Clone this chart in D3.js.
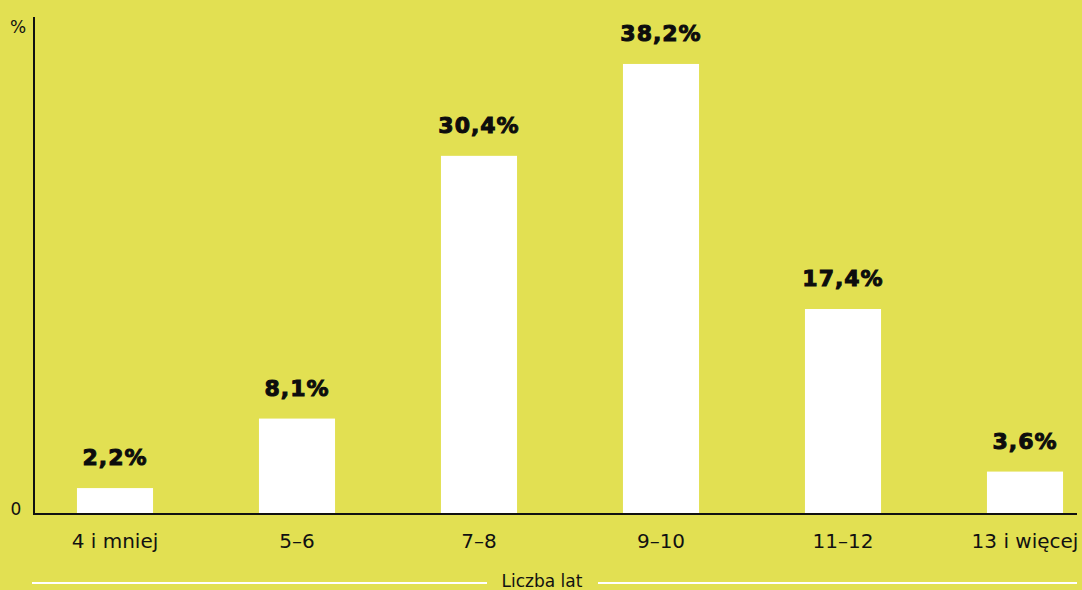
<!DOCTYPE html>
<html>
<head>
<meta charset="utf-8">
<script src="https://cdn.jsdelivr.net/npm/d3@7"></script>
<style>
  body { margin: 0; background: #e2e052; }
  svg { display: block; }
</style>
</head>
<body>
<script>
const width = 1082;
const height = 590;

const categories = ["4 i mniej", "5–6", "7–8", "9–10", "11–12", "13 i więcej"];
const values = [2.2, 8.1, 30.4, 38.2, 17.4, 3.6];
const valueLabels = ["2,2%", "8,1%", "30,4%", "38,2%", "17,4%", "3,6%"];

let svg = d3.select("body")
  .append("svg")
    .attr("width", width)
    .attr("height", height);

svg.append("rect")
  .attr("width", width)
  .attr("height", height)
  .attr("fill", "#e2e052");

let x = d3.scaleBand()
  .domain(categories)
  .range([24, 1116])
  .paddingInner(0.582)
  .paddingOuter(0.291);

let y = d3.scaleLinear()
  .domain([0, 42.1])
  .range([514, 18]);

// bars
svg.selectAll("rect.bar")
  .data(values)
  .enter()
  .append("rect")
    .attr("class", "bar")
    .attr("x", (d, i) => x(categories[i]))
    .attr("y", d => y(d))
    .attr("width", x.bandwidth())
    .attr("height", d => y(0) - y(d))
    .attr("fill", "white");

// value labels (stroke to get a heavier weight)
svg.selectAll("text.val")
  .data(values)
  .enter()
  .append("text")
    .attr("class", "val")
    .attr("x", (d, i) => x(categories[i]) + x.bandwidth() / 2)
    .attr("y", d => y(d) - 23)
    .attr("text-anchor", "middle")
    .style("font-family", "'DejaVu Sans', sans-serif")
    .style("font-weight", "bold")
    .style("font-size", "22px")
    .style("letter-spacing", "1px")
    .attr("fill", "#0d0d0d")
    .attr("stroke", "#0d0d0d")
    .attr("stroke-width", 1)
    .text((d, i) => valueLabels[i]);

// axes lines
svg.append("line")
  .attr("x1", 34).attr("x2", 34)
  .attr("y1", 17).attr("y2", y(0) + 1)
  .attr("stroke", "#111").attr("stroke-width", 2);

svg.append("line")
  .attr("x1", 33).attr("x2", 1077)
  .attr("y1", y(0)).attr("y2", y(0))
  .attr("stroke", "#111").attr("stroke-width", 2);

// x tick labels
svg.selectAll("text.tick")
  .data(categories)
  .enter()
  .append("text")
    .attr("class", "tick")
    .attr("x", d => x(d) + x.bandwidth() / 2)
    .attr("y", 548)
    .attr("text-anchor", "middle")
    .style("font-family", "'DejaVu Sans', sans-serif")
    .style("font-size", "20px")
    .attr("fill", "#111")
    .text(d => d);

// y labels
svg.append("text")
  .attr("x", 18).attr("y", 33)
  .attr("text-anchor", "middle")
  .style("font-family", "'DejaVu Sans', sans-serif")
  .style("font-size", "17px")
  .attr("fill", "#111")
  .text("%");

svg.append("text")
  .attr("x", 16).attr("y", y(0) + 1)
  .attr("text-anchor", "middle")
  .style("font-family", "'DejaVu Sans', sans-serif")
  .style("font-size", "17px")
  .attr("fill", "#111")
  .text("0");

// axis title with white rules
svg.append("line")
  .attr("x1", 32).attr("x2", 487)
  .attr("y1", 583).attr("y2", 583)
  .attr("stroke", "white").attr("stroke-width", 2);

svg.append("line")
  .attr("x1", 598).attr("x2", 1077)
  .attr("y1", 583).attr("y2", 583)
  .attr("stroke", "white").attr("stroke-width", 2);

svg.append("text")
  .attr("x", 542).attr("y", 587)
  .attr("text-anchor", "middle")
  .style("font-family", "'DejaVu Sans', sans-serif")
  .style("font-size", "17px")
  .attr("fill", "#111")
  .text("Liczba lat");
</script>
</body>
</html>
